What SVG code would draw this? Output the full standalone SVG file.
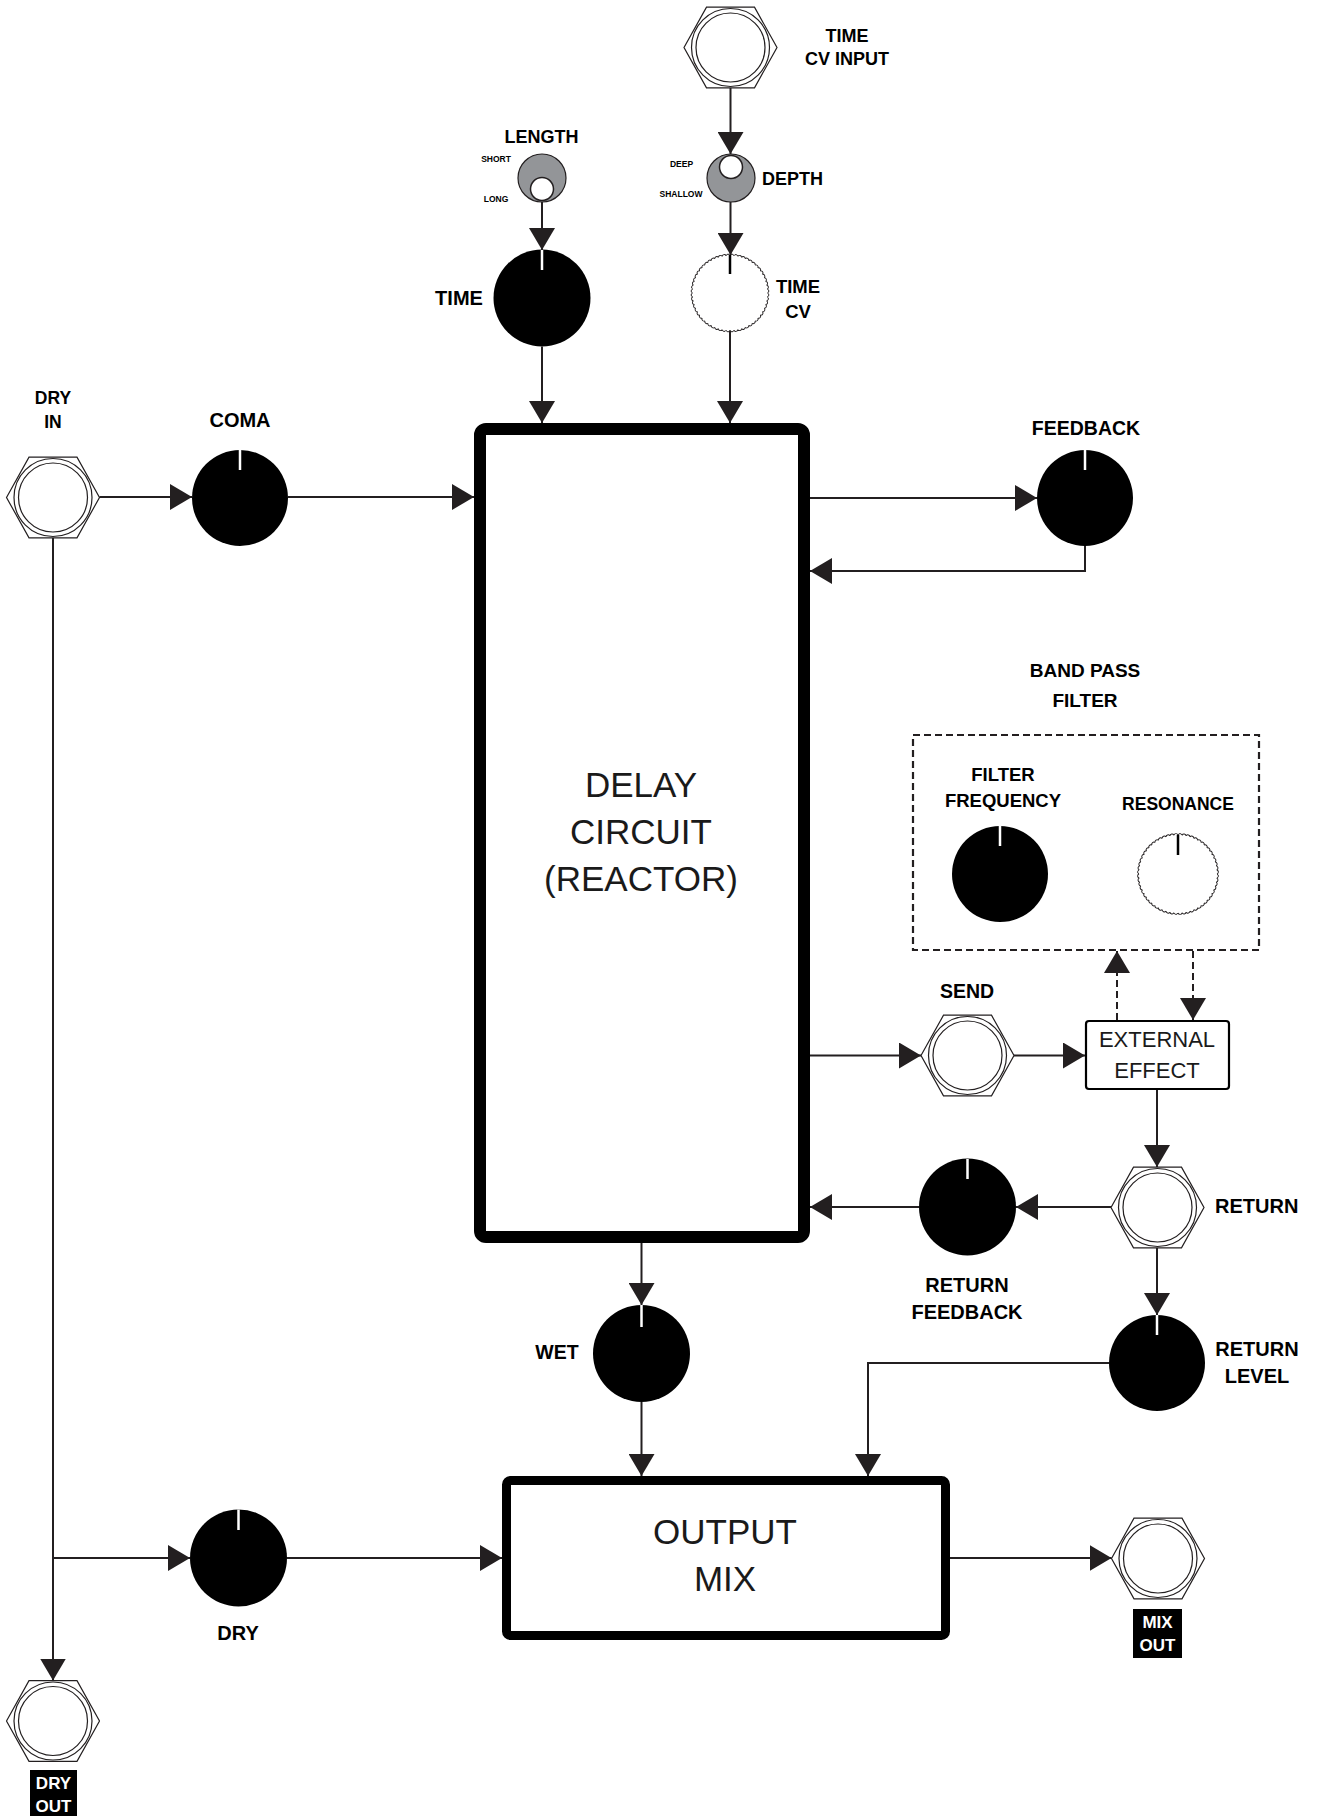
<svg xmlns="http://www.w3.org/2000/svg" width="1318" height="1816" viewBox="0 0 1318 1816">
<style>
.lbl{font-family:"Liberation Sans",Arial,sans-serif;font-weight:bold;fill:#000;text-anchor:middle}
.big{font-family:"Liberation Sans",Arial,sans-serif;fill:#1a1a1a;text-anchor:middle}
.wire{stroke:#231f20;stroke-width:2;fill:none}
.dash{stroke-dasharray:7 4}
.knob{fill:#000}
.ind{stroke:#fff;stroke-width:2.5}
.ind2{stroke:#000;stroke-width:2.5}
.hex{fill:#fff;stroke:#231f20;stroke-width:1.2}
.ring{fill:none;stroke:#231f20;stroke-width:1.2}
.gray{fill:#939598;stroke:#231f20;stroke-width:1.2}
.pip{fill:#fff;stroke:#231f20;stroke-width:1.5}
.tag{fill:#000}
.tagt{font-family:"Liberation Sans",Arial,sans-serif;font-weight:bold;fill:#fff;text-anchor:middle;font-size:17px}
</style>
<defs>
<marker id="ah" viewBox="0 0 22 26" refX="22" refY="13" markerWidth="22" markerHeight="26" markerUnits="userSpaceOnUse" orient="auto">
<path d="M0,0 L22,13 L0,26 z" fill="#231f20"/>
</marker>
<g id="jack">
<polygon class="hex" points="-46.5,0 -24,-40.3 24,-40.3 46.5,0 24,40.3 -24,40.3"/>
<circle class="ring" r="39"/>
<circle class="ring" r="34.5"/>
</g>
<path id="bump" d="M0,-40 A2.2,2.2 0 0 1 4.181,-39.781" fill="none" stroke="#231f20" stroke-width="1"/>
<g id="bump5">
<use href="#bump"/>
<use href="#bump" transform="rotate(6)"/>
<use href="#bump" transform="rotate(12)"/>
<use href="#bump" transform="rotate(18)"/>
<use href="#bump" transform="rotate(24)"/>
</g>
<g id="wavy">
<use href="#bump5"/>
<use href="#bump5" transform="rotate(30)"/>
<use href="#bump5" transform="rotate(60)"/>
<use href="#bump5" transform="rotate(90)"/>
<use href="#bump5" transform="rotate(120)"/>
<use href="#bump5" transform="rotate(150)"/>
<use href="#bump5" transform="rotate(180)"/>
<use href="#bump5" transform="rotate(210)"/>
<use href="#bump5" transform="rotate(240)"/>
<use href="#bump5" transform="rotate(270)"/>
<use href="#bump5" transform="rotate(300)"/>
<use href="#bump5" transform="rotate(330)"/>
</g>
</defs>
<rect width="1318" height="1816" fill="#fff"/>

<g id="time-cv-input">
<use href="#jack" transform="translate(730.5,47.5)"/>
<text class="lbl" x="847" y="42" font-size="18">TIME</text>
<text class="lbl" x="847" y="65" font-size="18">CV INPUT</text>
</g>

<g id="length">
<circle class="gray" cx="542" cy="178" r="24"/>
<circle class="pip" cx="542" cy="189" r="11.5"/>
<text class="lbl" x="541.5" y="143" font-size="18">LENGTH</text>
<text class="lbl" x="496" y="162" font-size="8.5">SHORT</text>
<text class="lbl" x="496" y="202" font-size="8.5">LONG</text>
</g>

<g id="depth">
<circle class="gray" cx="731" cy="178" r="24"/>
<circle class="pip" cx="731" cy="167" r="11.5"/>
<text class="lbl" x="762" y="185" font-size="18" style="text-anchor:start">DEPTH</text>
<text class="lbl" x="681.5" y="167" font-size="8.5">DEEP</text>
<text class="lbl" x="681" y="197" font-size="8.5">SHALLOW</text>
</g>

<g id="time">
<circle class="knob" cx="542" cy="298" r="48.5"/>
<line class="ind" x1="542" y1="250" x2="542" y2="270"/>
<text class="lbl" x="459" y="305" font-size="20">TIME</text>
</g>

<g id="time-cv">
<circle cx="730" cy="293" r="37.5" fill="#fff"/>
<use href="#wavy" transform="translate(730,293) scale(0.9375)"/>
<line class="ind2" x1="730" y1="255" x2="730" y2="274"/>
<text class="lbl" x="798" y="293" font-size="18.5">TIME</text>
<text class="lbl" x="798" y="318" font-size="18.5">CV</text>
</g>

<g id="dry-in">
<use href="#jack" transform="translate(53,497.5)"/>
<text class="lbl" x="53" y="404" font-size="17.5">DRY</text>
<text class="lbl" x="53" y="428" font-size="17.5">IN</text>
</g>

<g id="coma">
<circle class="knob" cx="240" cy="498" r="48"/>
<line class="ind" x1="240" y1="450" x2="240" y2="470"/>
<text class="lbl" x="240" y="427" font-size="20">COMA</text>
</g>

<g id="delay-circuit">
<rect x="480" y="429" width="324" height="808" rx="6" fill="#fff" stroke="#000" stroke-width="12"/>
<text class="big" x="641" y="797" font-size="35">DELAY</text>
<text class="big" x="641" y="844" font-size="35">CIRCUIT</text>
<text class="big" x="641" y="891" font-size="35">(REACTOR)</text>
</g>

<g id="feedback">
<circle class="knob" cx="1085" cy="498" r="48"/>
<line class="ind" x1="1085" y1="450" x2="1085" y2="470"/>
<text class="lbl" x="1086" y="435" font-size="19.5">FEEDBACK</text>
</g>

<g id="band-pass-filter">
<text class="lbl" x="1085" y="677" font-size="19">BAND PASS</text>
<text class="lbl" x="1085" y="707" font-size="19">FILTER</text>
<rect class="dash" x="913" y="735" width="346" height="215" fill="none" stroke="#231f20" stroke-width="2.2"/>
</g>

<g id="filter-frequency">
<circle class="knob" cx="1000" cy="874" r="48"/>
<line class="ind" x1="1000" y1="826" x2="1000" y2="846"/>
<text class="lbl" x="1003" y="781" font-size="18.5">FILTER</text>
<text class="lbl" x="1003" y="807" font-size="18.5">FREQUENCY</text>
</g>

<g id="resonance">
<circle cx="1178" cy="874" r="39" fill="#fff"/>
<use href="#wavy" transform="translate(1178,874) scale(0.975)"/>
<line class="ind2" x1="1178" y1="835" x2="1178" y2="855"/>
<text class="lbl" x="1178" y="810" font-size="17.5">RESONANCE</text>
</g>

<g id="send">
<use href="#jack" transform="translate(967.5,1055.5)"/>
<text class="lbl" x="967" y="998" font-size="19.5">SEND</text>
</g>

<g id="external-effect">
<rect x="1086" y="1021" width="143" height="68" rx="3" fill="#fff" stroke="#000" stroke-width="2.2"/>
<text class="big" x="1157" y="1047" font-size="22">EXTERNAL</text>
<text class="big" x="1157" y="1078" font-size="22">EFFECT</text>
</g>

<g id="return">
<use href="#jack" transform="translate(1157.5,1207.5)"/>
<text class="lbl" x="1215" y="1213" font-size="20" style="text-anchor:start">RETURN</text>
</g>

<g id="return-feedback">
<circle class="knob" cx="967.5" cy="1207" r="48.5"/>
<line class="ind" x1="967.5" y1="1159" x2="967.5" y2="1179"/>
<text class="lbl" x="967" y="1292" font-size="20">RETURN</text>
<text class="lbl" x="967" y="1319" font-size="20">FEEDBACK</text>
</g>

<g id="return-level">
<circle class="knob" cx="1157" cy="1363" r="48"/>
<line class="ind" x1="1157" y1="1315" x2="1157" y2="1335"/>
<text class="lbl" x="1257" y="1356" font-size="20">RETURN</text>
<text class="lbl" x="1257" y="1383" font-size="20">LEVEL</text>
</g>

<g id="wet">
<circle class="knob" cx="641.5" cy="1353.5" r="48.5"/>
<line class="ind" x1="641.5" y1="1305" x2="641.5" y2="1327"/>
<text class="lbl" x="557" y="1359" font-size="19.5">WET</text>
</g>

<g id="output-mix">
<rect x="506.5" y="1480.5" width="439" height="155" rx="4" fill="#fff" stroke="#000" stroke-width="9"/>
<text class="big" x="725" y="1544" font-size="35">OUTPUT</text>
<text class="big" x="725" y="1591" font-size="35">MIX</text>
</g>

<g id="dry">
<circle class="knob" cx="238.5" cy="1558" r="48.5"/>
<line class="ind" x1="238.5" y1="1509.5" x2="238.5" y2="1530"/>
<text class="lbl" x="238" y="1640" font-size="20">DRY</text>
</g>

<g id="mix-out">
<use href="#jack" transform="translate(1158,1558.5)"/>
<rect class="tag" x="1133" y="1609" width="49" height="49"/>
<text class="tagt" x="1157.5" y="1628">MIX</text>
<text class="tagt" x="1157.5" y="1651">OUT</text>
</g>

<g id="dry-out">
<use href="#jack" transform="translate(53,1721)"/>
<rect class="tag" x="30" y="1770" width="47" height="46"/>
<text class="tagt" x="53.5" y="1789">DRY</text>
<text class="tagt" x="53.5" y="1812">OUT</text>
</g>

<g id="connectors">
<path class="wire" marker-end="url(#ah)" d="M730.5,88 L730.5,154"/>
<path class="wire" marker-end="url(#ah)" d="M542,202 L542,250"/>
<path class="wire" marker-end="url(#ah)" d="M730.5,202 L730.5,255"/>
<path class="wire" marker-end="url(#ah)" d="M542,346.5 L542,423"/>
<path class="wire" marker-end="url(#ah)" d="M730,330.5 L730,423"/>
<path class="wire" marker-end="url(#ah)" d="M99.5,497 L192,497"/>
<path class="wire" marker-end="url(#ah)" d="M288,497 L474,497"/>
<path class="wire" marker-end="url(#ah)" d="M810,498 L1037,498"/>
<path class="wire" marker-end="url(#ah)" d="M1085,546 L1085,571 L810,571"/>
<path class="wire" marker-end="url(#ah)" d="M810,1055.5 L921,1055.5"/>
<path class="wire" marker-end="url(#ah)" d="M1014,1055.5 L1085,1055.5"/>
<path class="wire dash" marker-end="url(#ah)" d="M1117,1020 L1117,951"/>
<path class="wire dash" marker-end="url(#ah)" d="M1193,951 L1193,1020"/>
<path class="wire" marker-end="url(#ah)" d="M1157,1090 L1157,1167"/>
<path class="wire" marker-end="url(#ah)" d="M1111,1207 L1016,1207"/>
<path class="wire" marker-end="url(#ah)" d="M919,1207 L810,1207"/>
<path class="wire" marker-end="url(#ah)" d="M1157,1248 L1157,1315"/>
<path class="wire" marker-end="url(#ah)" d="M1109,1363 L868,1363 L868,1476"/>
<path class="wire" marker-end="url(#ah)" d="M641.5,1243 L641.5,1305"/>
<path class="wire" marker-end="url(#ah)" d="M641.5,1402 L641.5,1476"/>
<path class="wire" marker-end="url(#ah)" d="M53,538 L53,1680.5"/>
<path class="wire" marker-end="url(#ah)" d="M53,1558 L190,1558"/>
<path class="wire" marker-end="url(#ah)" d="M287,1558 L502,1558"/>
<path class="wire" marker-end="url(#ah)" d="M950,1558 L1111.5,1558"/>
</g>
</svg>
